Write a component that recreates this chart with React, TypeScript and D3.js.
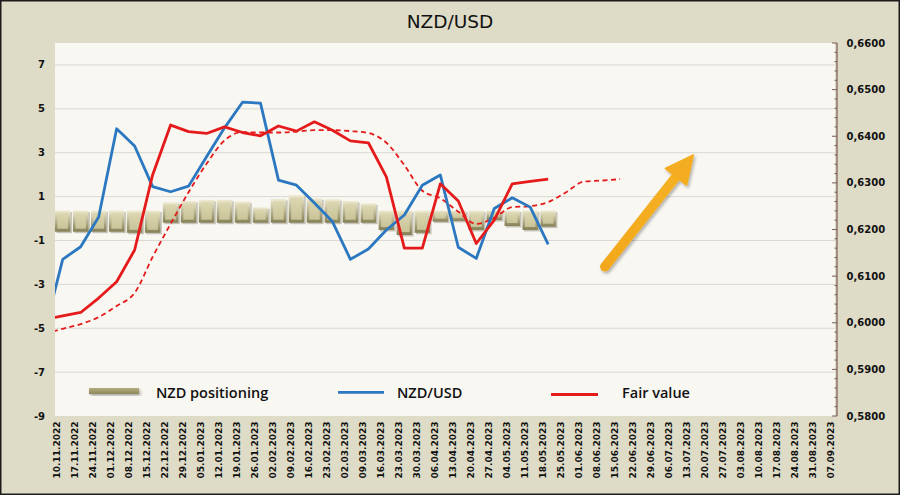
import React from 'react';
import * as d3 from 'd3';

// Weekly categories (x axis)
const dates = [
  '10.11.2022', '17.11.2022', '24.11.2022', '01.12.2022', '08.12.2022', '15.12.2022', '22.12.2022', '29.12.2022',
  '05.01.2023', '12.01.2023', '19.01.2023', '26.01.2023', '02.02.2023', '09.02.2023', '16.02.2023', '23.02.2023',
  '02.03.2023', '09.03.2023', '16.03.2023', '23.03.2023', '30.03.2023', '06.04.2023', '13.04.2023', '20.04.2023',
  '27.04.2023', '04.05.2023', '11.05.2023', '18.05.2023', '25.05.2023', '01.06.2023', '08.06.2023', '15.06.2023',
  '22.06.2023', '29.06.2023', '06.07.2023', '13.07.2023', '20.07.2023', '27.07.2023', '03.08.2023', '10.08.2023',
  '17.08.2023', '24.08.2023', '31.08.2023', '07.09.2023',
];

// NZD positioning (left axis), drawn as floating bevelled bars: top / bottom of each bar
const positioningHigh = [
  0.36, 0.36, 0.36, 0.36, 0.36, 0.36, 0.74, 0.8, 0.85, 0.85, 0.77, 0.51, 0.89, 1.07,
  0.92, 0.88, 0.8, 0.69, 0.36, 0.36, 0.36, 0.36, 0.36, 0.36, 0.36, 0.36, 0.36, 0.36,
];
const positioningLow = [
  -0.6, -0.6, -0.6, -0.6, -0.65, -0.65, -0.19, -0.19, -0.19, -0.19, -0.19, -0.19, -0.19, -0.19,
  -0.19, -0.19, -0.19, -0.19, -0.52, -0.75, -0.65, -0.14, -0.11, -0.52, -0.07, -0.34, -0.52, -0.37,
];

// Line series (right axis). The first value of each belongs to the week before 10.11.2022
// (03.11.2022) and is clipped at the left edge of the plot.
const nzdusd = [
  0.5982, 0.6136, 0.6163, 0.6227, 0.6416, 0.6379, 0.6292, 0.6281, 0.6293, 0.6356, 0.6418, 0.6473, 0.6471,
  0.6306, 0.6295, 0.6257, 0.6217, 0.6136, 0.6158, 0.6199, 0.6231, 0.6295, 0.6317, 0.6162, 0.6138, 0.6245,
  0.6268, 0.6248, 0.6168,
];
const fairValue = [
  0.6007, 0.6015, 0.6022, 0.6053, 0.6088, 0.6156, 0.6317, 0.6424, 0.641, 0.6406, 0.642, 0.6408, 0.6401,
  0.6422, 0.6411, 0.6431, 0.6413, 0.639, 0.6386, 0.6313, 0.616, 0.616, 0.6298, 0.6261, 0.617, 0.622,
  0.6298, 0.6303, 0.6308,
];
const fairValueTrend = [
  0.5977, 0.5987, 0.5997, 0.6012, 0.6036, 0.6064, 0.6141, 0.6212, 0.628, 0.6341, 0.6391, 0.6409, 0.6408,
  0.6408, 0.641, 0.6413, 0.6413, 0.6411, 0.6407, 0.6386, 0.6338, 0.6283, 0.6267, 0.6238, 0.6212, 0.6225,
  0.6248, 0.625, 0.6259, 0.628, 0.6303, 0.6305, 0.6308,
];

// Axis ticks
const leftTicks = [-9, -7, -5, -3, -1, 1, 3, 5, 7];
const rightTicks = [0.58, 0.59, 0.6, 0.61, 0.62, 0.63, 0.64, 0.65, 0.66];

// Arrow annotation (category index, right-axis value)
const arrowFrom = [30.15, 0.612];
const arrowTo = [35.07, 0.636];

const legendLabels = ['NZD positioning', 'NZD/USD', 'Fair value'];

const W = 900;
const H = 495;
const P = { left: 55, right: 835, top: 43, bottom: 416 };

const BLUE = '#2b78c0';
const RED = '#e51b1b';

export default function App() {
  const x = d3.scaleLinear().domain([0, 43]).range([62.7, 835.9]);
  const yL = d3.scaleLinear().domain([-9, 8]).range([P.bottom, P.top]);
  const yR = d3.scaleLinear().domain([0.58, 0.66]).range([P.bottom, P.top]);

  const line = d3
    .line<number>()
    .x((_, i) => x(i - 1))
    .y((d) => yR(d));
  const smooth = d3
    .line<number>()
    .x((_, i) => x(i - 1))
    .y((d) => yR(d))
    .curve(d3.curveMonotoneX);

  const fmtR = (v: number) => d3.format('.4f')(v).replace('.', ',');
  const minorTicks = d3.range(0, 41).map((k) => 0.58 + k * 0.002);

  const bw = 15.5;

  // arrow geometry
  const ax0 = x(arrowFrom[0]);
  const ay0 = yR(arrowFrom[1]);
  const ax1 = x(arrowTo[0]);
  const ay1 = yR(arrowTo[1]);
  const len = Math.hypot(ax1 - ax0, ay1 - ay0);
  const ux = (ax1 - ax0) / len;
  const uy = (ay1 - ay0) / len;
  const headL = 28;
  const headW = 13.5;
  const bx = ax1 - ux * headL;
  const by = ay1 - uy * headL;
  const nx = -uy;
  const ny = ux;
  const headPts = [
    [ax1, ay1],
    [bx + nx * headW, by + ny * headW],
    [bx - nx * headW, by - ny * headW],
  ]
    .map((p) => p.join(','))
    .join(' ');

  return (
    <svg
      width={W}
      height={H}
      style={{ position: 'absolute', left: 0, top: 0, display: 'block' }}
      fontFamily="'DejaVu Sans', Verdana, sans-serif"
    >
      <defs>
        <linearGradient id="barEdge" x1="0" y1="0" x2="0" y2="1">
          <stop offset="0%" stopColor="#eeead0" />
          <stop offset="100%" stopColor="#857f55" />
        </linearGradient>
        <linearGradient id="barFace" x1="0" y1="0" x2="0" y2="1">
          <stop offset="0%" stopColor="#dcd7b0" />
          <stop offset="100%" stopColor="#c9c398" />
        </linearGradient>
        <linearGradient id="legBar" x1="0" y1="0" x2="0" y2="1">
          <stop offset="0%" stopColor="#b3ad80" />
          <stop offset="100%" stopColor="#8d875a" />
        </linearGradient>
        <linearGradient id="arrowGrad" x1="0" y1="1" x2="1" y2="0">
          <stop offset="0%" stopColor="#f2a81e" />
          <stop offset="100%" stopColor="#f5b021" />
        </linearGradient>
        <filter id="shadow" x="-20%" y="-20%" width="140%" height="140%">
          <feDropShadow dx="1.5" dy="2" stdDeviation="1.5" floodColor="#000" floodOpacity="0.3" />
        </filter>
        <clipPath id="plotClip">
          <rect x={P.left} y={P.top} width={P.right - P.left} height={P.bottom - P.top} />
        </clipPath>
      </defs>

      {/* background */}
      <rect x={0.75} y={0.75} width={W - 1.5} height={H - 1.5} fill="#dedbc7" stroke="#1c1c1c" strokeWidth={1.5} />
      <rect x={P.left} y={P.top} width={P.right - P.left} height={P.bottom - P.top} fill="#f8f7f2" />

      {/* title */}
      <text x={450} y={28} textAnchor="middle" fontSize={18.5} fill="#111">
        NZD/USD
      </text>

      {/* gridlines */}
      {leftTicks
        .filter((t) => t > -9)
        .map((t) => (
          <line key={t} x1={P.left} x2={P.right} y1={yL(t)} y2={yL(t)} stroke="#d9d8d3" strokeWidth={1} />
        ))}

      {/* left axis labels */}
      {leftTicks.map((t) => (
        <text key={t} x={45} y={yL(t)} dy="0.35em" textAnchor="end" fontSize={10} fontWeight="bold" fill="#111">
          {t}
        </text>
      ))}

      {/* right axis */}
      <line x1={837} x2={837} y1={P.top} y2={P.bottom} stroke="#7a5a5a" strokeWidth={1.2} />
      {minorTicks.map((t, k) => (
        <line key={k} x1={k % 5 === 0 ? 832 : 834.5} x2={837} y1={yR(t)} y2={yR(t)} stroke="#7a5a5a" strokeWidth={1} />
      ))}
      {rightTicks.map((t) => (
        <text key={t} x={846.5} y={yR(t)} dy="0.35em" fontSize={10} fontWeight="bold" fill="#111">
          {fmtR(t)}
        </text>
      ))}

      {/* x axis labels */}
      {dates.map((d, i) => (
        <text
          key={d}
          transform={`translate(${x(i) - 5.4},421.5) rotate(-90)`}
          textAnchor="end"
          dominantBaseline="central"
          fontSize={9}
          fontWeight="bold"
          fill="#111"
        >
          {d}
        </text>
      ))}

      {/* positioning bars */}
      {positioningHigh.map((hi, i) => {
        const lo = positioningLow[i];
        const cx = x(i);
        const y0 = yL(hi);
        const y1 = yL(lo);
        return (
          <g key={i}>
            <rect x={cx - bw / 2 + 1.5} y={y0 + 1.5} width={bw} height={y1 - y0} fill="rgba(70,65,35,0.28)" />
            <rect x={cx - bw / 2} y={y0} width={bw} height={y1 - y0} fill="url(#barEdge)" />
            <rect x={cx - bw / 2 + 2.5} y={y0 + 2.5} width={bw - 5} height={Math.max(0, y1 - y0 - 5.5)} fill="url(#barFace)" />
          </g>
        );
      })}

      {/* lines */}
      <g clipPath="url(#plotClip)">
        <path d={smooth(fairValueTrend) || ''} fill="none" stroke={RED} strokeWidth={1.8} strokeDasharray="5,3.5" />
        <path d={line(nzdusd) || ''} fill="none" stroke={BLUE} strokeWidth={2.8} strokeLinejoin="round" />
        <path d={line(fairValue) || ''} fill="none" stroke={RED} strokeWidth={2.8} strokeLinejoin="round" />
      </g>

      {/* arrow */}
      <g filter="url(#shadow)">
        <line x1={ax0} y1={ay0} x2={bx + ux * 2} y2={by + uy * 2} stroke="url(#arrowGrad)" strokeWidth={9.5} strokeLinecap="round" />
        <polygon points={headPts} fill="#f4ad20" stroke="#f4ad20" strokeWidth={1.5} strokeLinejoin="round" />
      </g>

      {/* legend */}
      <rect x={89} y={388} width={50} height={6} fill="url(#legBar)" filter="url(#shadow)" />
      <text x={156} y={393} dy="0.35em" fontFamily="'Open Sans', sans-serif" fontWeight={600} fontSize={14.5} fill="#111">
        {legendLabels[0]}
      </text>
      <line x1={338} x2={384} y1={392.3} y2={392.3} stroke={BLUE} strokeWidth={2.8} />
      <text x={397} y={393} dy="0.35em" fontFamily="'Open Sans', sans-serif" fontWeight={600} fontSize={14.5} fill="#111">
        {legendLabels[1]}
      </text>
      <line x1={551} x2={598} y1={394.5} y2={394.5} stroke={RED} strokeWidth={2.8} />
      <text x={622} y={393} dy="0.35em" fontFamily="'Open Sans', sans-serif" fontWeight={600} fontSize={14.5} fill="#111">
        {legendLabels[2]}
      </text>
    </svg>
  );
}
